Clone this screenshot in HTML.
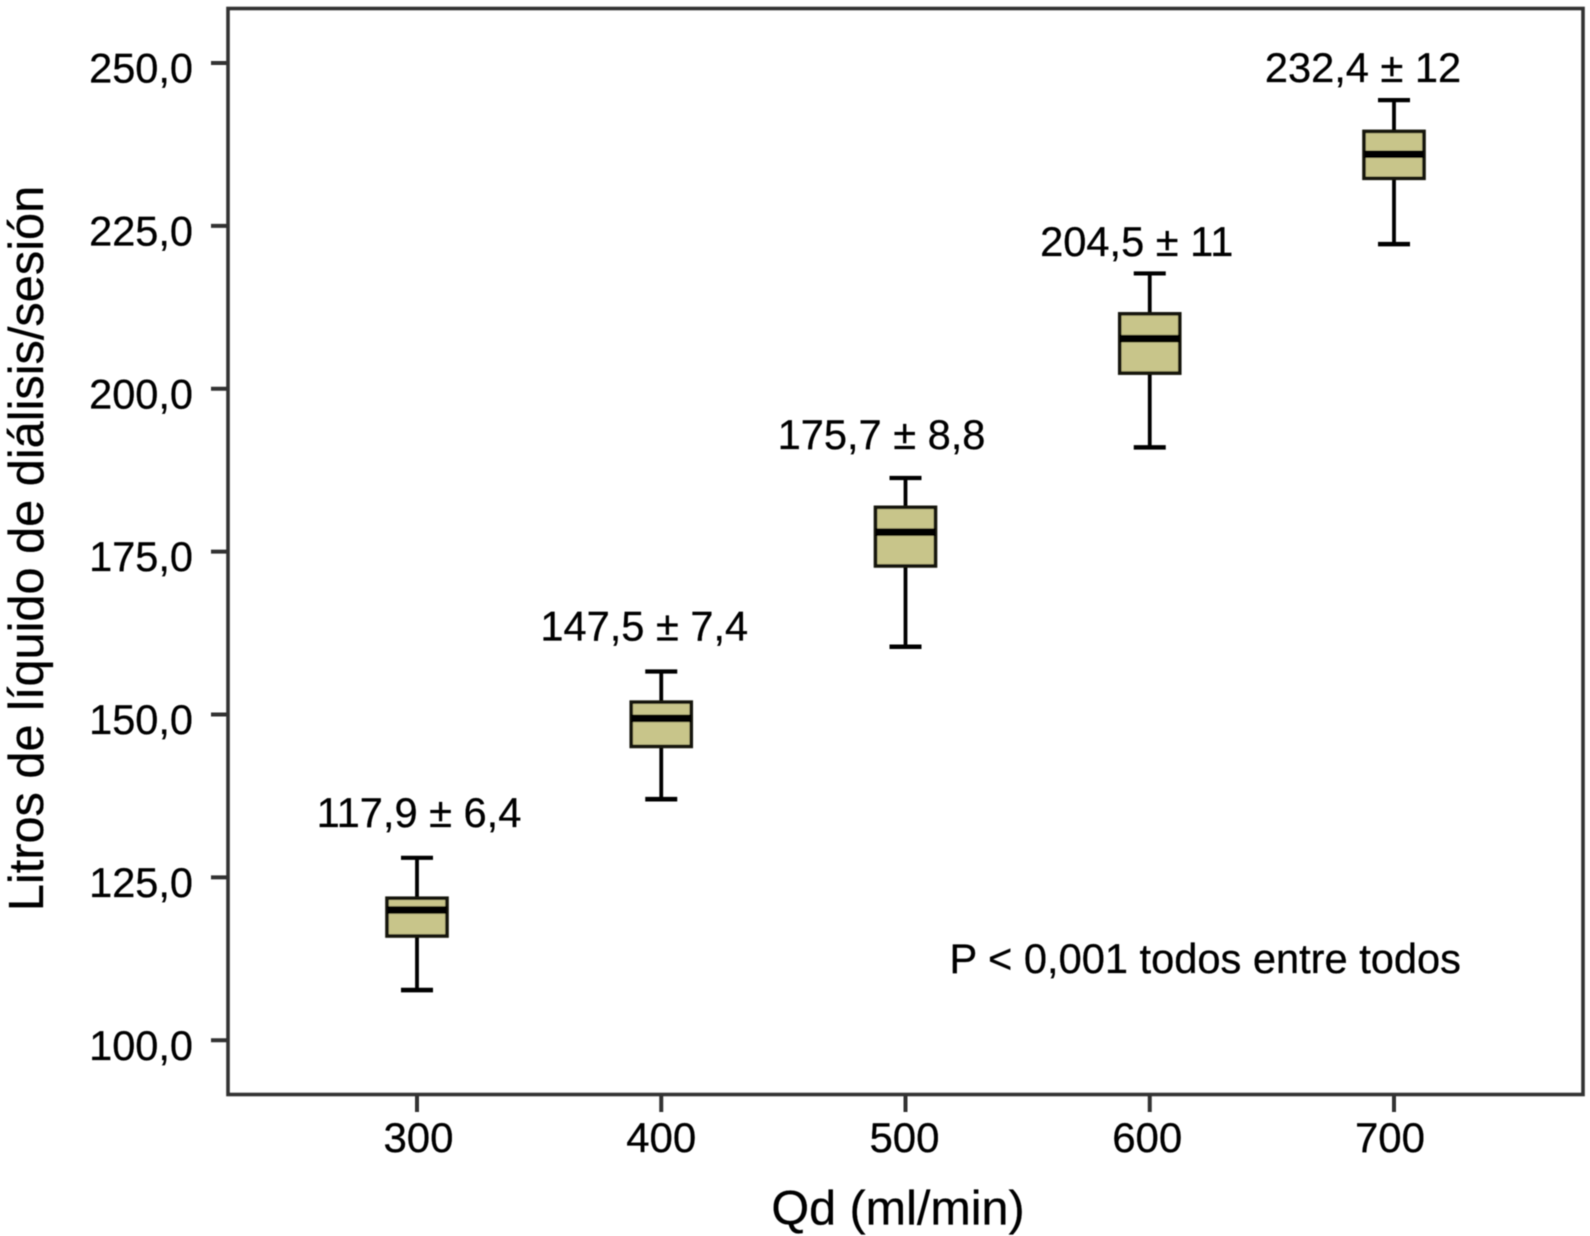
<!DOCTYPE html>
<html lang="es">
<head>
<meta charset="utf-8">
<title>Litros de líquido de diálisis por sesión según Qd</title>
<style>
html,body{margin:0;padding:0;background:#fff;width:1590px;height:1236px;overflow:hidden}
svg{display:block;font-family:"Liberation Sans",Arial,sans-serif;fill:#000000}
svg text{stroke:#000000;stroke-width:0.3px}
</style>
</head>
<body>
<svg id="chart" xmlns="http://www.w3.org/2000/svg" width="1590" height="1236" viewBox="0 0 1590 1236">
  <defs><filter id="soft" x="-2%" y="-2%" width="104%" height="104%"><feGaussianBlur stdDeviation="0.4"/></filter></defs>
  <rect x="0" y="0" width="1590" height="1236" fill="#ffffff"/>
  <g filter="url(#soft)">
  <rect x="228" y="8.5" width="1355" height="1086" fill="none" stroke="#333333" stroke-width="3.6"/>
  <text transform="translate(43 548.5) rotate(-90)" text-anchor="middle" font-size="48.7">Litros de líquido de diálisis/sesión</text>
  <text x="898" y="1224.5" text-anchor="middle" font-size="48.5">Qd (ml/min)</text>
  <text x="949.5" y="973" font-size="41.6">P &lt; 0,001 todos entre todos</text>
  <g id="axes"></g>
  <g id="boxes"></g>
  </g>
</svg>
<script>
const categories = [300, 400, 500, 600, 700];
const whiskerHigh = [128.0, 156.6, 186.3, 217.7, 244.3];
const quartile3 = [121.8, 151.9, 181.8, 211.5, 239.5];
const medians = [120.0, 149.4, 178.0, 207.7, 236.0];
const quartile1 = [116.0, 145.1, 172.8, 202.4, 232.3];
const whiskerLow = [107.7, 137.0, 160.4, 191.0, 222.2];
const printedValues = ['117,9 ± 6,4', '147,5 ± 7,4', '175,7 ± 8,8', '204,5 ± 11', '232,4 ± 12'];
const yTicks = [100, 125, 150, 175, 200, 225, 250];
const yTickLabels = ['100,0', '125,0', '150,0', '175,0', '200,0', '225,0', '250,0'];
const xTickLabels = ['300', '400', '500', '600', '700'];

const labelShiftX = [2, -17, -24, -13, -31];
const labelShiftY = [-31, -31, -29, -17.5, -18];
const xTickLabelShift = [1.5, 0, -1, -2.5, -4];

function xScale(v) { return 417 + (v - 300) * 2.4425; }
function yScale(v) { return 63 + (250 - v) * 6.515; }

const NS = 'http://www.w3.org/2000/svg';
function make(parent, tag, attrs, txt) {
  const node = document.createElementNS(NS, tag);
  for (const k in attrs) node.setAttribute(k, attrs[k]);
  if (txt !== undefined) node.textContent = txt;
  parent.appendChild(node);
  return node;
}

const axes = document.getElementById('axes');
yTicks.forEach(function (v, i) {
  const y = yScale(v);
  const tick = make(axes, 'line', {x1: 211, x2: 228, y1: y, y2: y, stroke: '#333333', 'stroke-width': 4});
  
  
  const label = make(axes, 'text', {x: 193, y: y + 19.5, 'text-anchor': 'end', 'font-size': 41.5}, yTickLabels[i]);
  
  
});
categories.forEach(function (c, i) {
  const x = xScale(c);
  const tick = make(axes, 'line', {x1: x, x2: x, y1: 1094, y2: 1112, stroke: '#333333', 'stroke-width': 4});
  
  
  const label = make(axes, 'text', {x: x + xTickLabelShift[i], y: 1152, 'text-anchor': 'middle', 'font-size': 42}, xTickLabels[i]);
  
  
});

const boxes = document.getElementById('boxes');
categories.forEach(function (c, i) {
  const x = xScale(c);
  const g = make(boxes, 'g', {});
  
  

  const stem = make(g, 'line', {x1: x, x2: x, y1: yScale(whiskerHigh[i]), y2: yScale(whiskerLow[i]), stroke: '#000000', 'stroke-width': 3.8});
  
  

  const capHigh = make(g, 'line', {x1: x - 16, x2: x + 16, y1: yScale(whiskerHigh[i]), y2: yScale(whiskerHigh[i]), stroke: '#000000', 'stroke-width': 4.2});
  
  

  const capLow = make(g, 'line', {x1: x - 16, x2: x + 16, y1: yScale(whiskerLow[i]), y2: yScale(whiskerLow[i]), stroke: '#000000', 'stroke-width': 4.6});
  
  

  const box = make(g, 'rect', {x: x - 30, y: yScale(quartile3[i]), width: 60, height: yScale(quartile1[i]) - yScale(quartile3[i]), fill: '#c8c58a', stroke: '#141408', 'stroke-width': 3.6});
  
  

  const med = make(g, 'line', {x1: x - 30, x2: x + 30, y1: yScale(medians[i]), y2: yScale(medians[i]), stroke: '#000000', 'stroke-width': 7.5});
  
  

  const lab = make(g, 'text', {x: x + labelShiftX[i], y: yScale(whiskerHigh[i]) + labelShiftY[i], 'text-anchor': 'middle', 'font-size': 41.6}, printedValues[i]);
  
  
});
</script>
</body>
</html>
